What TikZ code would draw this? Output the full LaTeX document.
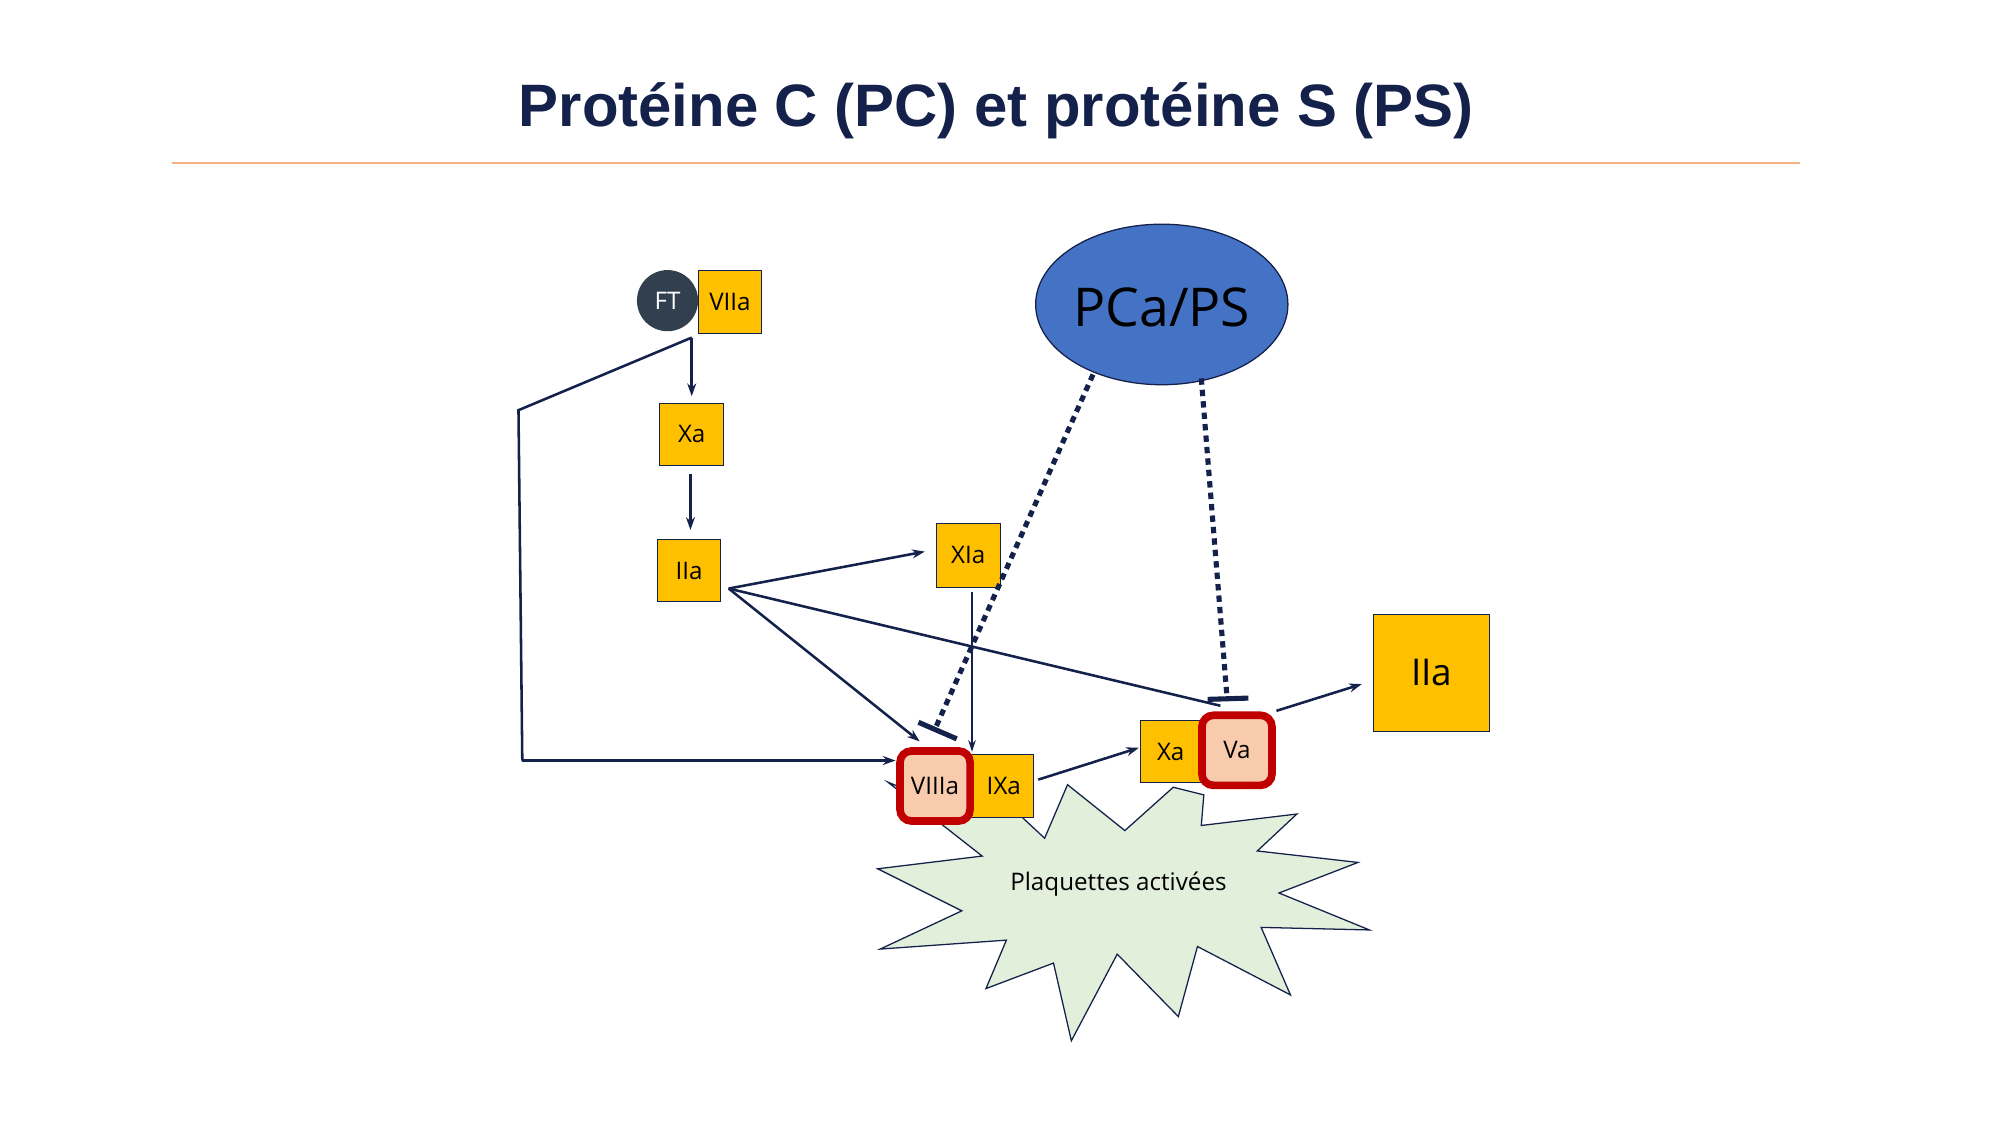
\documentclass[tikz,border=0pt]{standalone}
\usepackage{fontspec}
\setmainfont{Liberation Sans}
\newfontfamily\lblfont{Open Sans}
\usetikzlibrary{arrows.meta,shapes.geometric}
\definecolor{navy}{HTML}{14214A}
\definecolor{gold}{HTML}{FFC000}
\definecolor{redb}{HTML}{C00000}
\definecolor{peach}{HTML}{F8CBAD}
\definecolor{ftc}{HTML}{323F4F}
\definecolor{ell}{HTML}{4472C4}
\definecolor{star}{HTML}{E2EFDA}
\definecolor{rule}{HTML}{F4B183}
\begin{document}
\begin{tikzpicture}[x=1pt,y=-1pt,
  box/.style={draw=navy,line width=0.8pt,fill=gold,inner sep=0pt,font=\lblfont\fontsize{19}{19}\selectfont,text=black},
  rbox/.style={draw=redb,line width=6pt,rounded corners=9pt,fill=peach,inner sep=0pt,font=\lblfont\fontsize{19}{19}\selectfont,text=black},
  arr/.style={draw=navy,line width=2pt,-{Stealth[length=10pt,width=7pt]}},
  ln/.style={draw=navy,line width=2pt},
  dot/.style={draw=navy,line width=4pt,dash pattern=on 5pt off 4pt},
  bar/.style={draw=navy,line width=4pt}]
\useasboundingbox (0,0) rectangle (1570,883);
\fill[white] (0,0) rectangle (1570,883);
\node[font=\bfseries\fontsize{47}{47}\selectfont,text=navy] (title) at (782,87) {Protéine C (PC) et protéine S (PS)};
\draw[rule,line width=1.2pt] (135,128) -- (1413,128);
% star
\draw[navy,line width=1pt,fill=star] (838,616) -- (883,652) -- (921,618) -- (945,624) -- (943,648) -- (1018,639) -- (987,668) -- (1066,677) -- (1004,701) -- (1075,730) -- (990,728) -- (1013,781) -- (940,743) -- (925,798) -- (877,749) -- (841,817) -- (827,756) -- (774,776) -- (790,738) -- (691,745) -- (755,715) -- (689,682) -- (771,672) -- (697,614) -- (760,640) -- (790,630) -- (820,658) -- cycle;
\node[font=\lblfont\fontsize{19}{19}\selectfont] (plq) at (878,694) {Plaquettes activées};
% ellipse
\node[draw=navy,line width=1pt,fill=ell,ellipse,minimum width=198pt,minimum height=126pt,inner sep=0pt] (pca) at (912,239) {};
\node[font=\lblfont\fontsize{42}{42}\selectfont] (pcal) at (912,241) {PCa/PS};
% boxes
\node[draw=none,fill=ftc,circle,minimum size=48pt,inner sep=0pt,text=white,font=\lblfont\fontsize{19}{19}\selectfont] (ft) at (524,236) {FT};
\node[box,minimum width=50pt,minimum height=50pt] (viia) at (573,237) {VIIa};
\node[box,minimum width=50pt,minimum height=49pt] (xa) at (543,341) {Xa};
\node[box,minimum width=49pt,minimum height=49pt] (iia) at (541,448) {IIa};
\node[box,minimum width=50pt,minimum height=50pt] (xia) at (760,436) {XIa};
\node[box,minimum width=50pt,minimum height=50pt] (ixa) at (786,617) {\hspace*{4pt}IXa};
\node[rbox,minimum width=55pt,minimum height=55pt] (viiia) at (734,617) {VIIIa};
\node[box,minimum width=52pt,minimum height=49pt] (xa2) at (921,590) {Xa\hspace*{4pt}};
\node[rbox,minimum width=55pt,minimum height=55pt] (va) at (971,589) {Va};
\node[box,minimum width=91pt,minimum height=92pt,font=\lblfont\fontsize{29}{29}\selectfont] (iib) at (1124,528) {IIa};
% connectors
\coordinate (c0) at (543,265);
\coordinate (c1) at (407,322);
\coordinate (c2) at (410,597);
\coordinate (h) at (572,462);
\draw[arr] (c0) -- (543,311);
\draw[ln] (c0) -- (c1) -- (c2);
\draw[arr] (c2) -- (703,597);
\draw[arr] (542,372) -- (542,416);
\draw[arr] (h) -- (726,433);
\draw[arr] (h) -- (722,582);
\draw[ln] (h) -- (958,554);
\draw[navy,line width=1.2pt,-{Stealth[length=9pt,width=6pt]}] (763,465) -- (763,590);
\draw[arr] (815,612) -- (894,587);
\draw[arr] (1002,558) -- (1069,537);
\draw[dot] (858,294) -- (735,570);
\draw[bar] (721,567) -- (751,580);
\draw[dot] (943,297) -- (963,545);
\draw[bar] (948,549) -- (980,548);
\end{tikzpicture}
\end{document}
